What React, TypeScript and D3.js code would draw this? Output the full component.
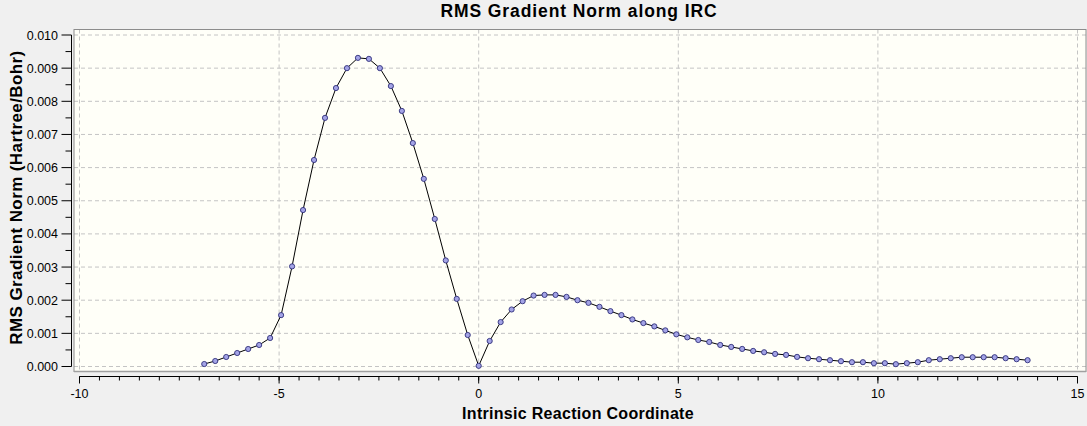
import * as d3 from "d3";

// IRC path: reaction coordinate and RMS gradient (Hartree/Bohr)
const ircX = [
  -6.875, -6.6, -6.325, -6.05, -5.775, -5.5, -5.225, -4.95, -4.675, -4.4, -4.125, -3.85, -3.575,
  -3.3, -3.025, -2.75, -2.475, -2.2, -1.925, -1.65, -1.375, -1.1, -0.825, -0.55, -0.275, 0,
  0.275, 0.55, 0.825, 1.1, 1.375, 1.65, 1.925, 2.2, 2.475, 2.75, 3.025, 3.3, 3.575, 3.85, 4.125,
  4.4, 4.675, 4.95, 5.225, 5.5, 5.775, 6.05, 6.325, 6.6, 6.875, 7.15, 7.425, 7.7, 7.975, 8.25,
  8.525, 8.8, 9.075, 9.35, 9.625, 9.9, 10.175, 10.45, 10.725, 11.0, 11.275, 11.55, 11.825, 12.1,
  12.375, 12.65, 12.925, 13.2, 13.475, 13.75,
];
const rmsGrad = [
  0.000075, 0.000166, 0.000287, 0.000407, 0.000528, 0.000649, 0.00086, 0.00155, 0.00302, 0.00472,
  0.00623, 0.0075, 0.0084, 0.009, 0.00931, 0.00928, 0.009, 0.00846, 0.00771, 0.00674, 0.00566,
  0.00445, 0.0032, 0.00204, 0.00095, 0.00002,
  0.00077, 0.00134, 0.00172, 0.00197, 0.00214, 0.00216, 0.00216, 0.0021, 0.002, 0.00192, 0.0018,
  0.00167, 0.00155, 0.00142, 0.00131, 0.00121, 0.00109, 0.00097, 0.00088, 0.0008, 0.00074,
  0.00065, 0.00059, 0.00053, 0.00047, 0.00043, 0.00038, 0.00035, 0.00029, 0.00025, 0.00022,
  0.00019, 0.00016, 0.00013, 0.00013, 0.0001, 0.0001, 0.00007, 0.0001, 0.00013, 0.00019, 0.00022,
  0.00025, 0.00028, 0.00028, 0.00028, 0.00028, 0.00025, 0.00022, 0.00019,
];
const xTickVals = [-10, -5, 0, 5, 10, 15];
const yTickVals = [0, 0.001, 0.002, 0.003, 0.004, 0.005, 0.006, 0.007, 0.008, 0.009, 0.01];

const W = 1087, H = 426;
const font = "'Liberation Sans', Arial, sans-serif";
const frame = { left: 74, top: 29.5, right: 1086, bottom: 371.5 };

export default function App() {
  const x = d3.scaleLinear().domain([-10, 15]).range([79.5, 1077.5]);
  const y = d3.scaleLinear().domain([0, 0.01]).range([366.5, 35]);
  const pts = ircX.map((v, i) => ({ x: v, y: rmsGrad[i] }));
  const path = d3.line<{ x: number; y: number }>().x((d) => x(d.x)).y((d) => y(d.y))(pts) ?? "";

  const xMinor = d3.range(-10, 15.001, 0.5);
  const yMinor = d3.range(0.0005, 0.01, 0.001);
  const axisY = 376.5, axisX = 71.5;

  return (
    <svg width={W} height={H} style={{ position: "absolute", left: 0, top: 0 }} fontFamily={font}>
      <rect width={W} height={H} fill="#f0f0f0" />
      <rect x={frame.left} y={frame.top} width={frame.right - frame.left} height={frame.bottom - frame.top} fill="#fffff8" />

      {/* dashed grid */}
      {yTickVals.map((t) => (
        <line key={`gy${t}`} x1={frame.left} x2={frame.right} y1={y(t)} y2={y(t)} stroke="#c4c4c4" strokeDasharray="4 3" />
      ))}
      {xTickVals.map((t) => (
        <line key={`gx${t}`} x1={x(t)} x2={x(t)} y1={frame.top} y2={frame.bottom} stroke="#c4c4c4" strokeDasharray="4 3" />
      ))}

      <rect x={frame.left} y={frame.top} width={frame.right - frame.left} height={frame.bottom - frame.top} fill="none" stroke="#8c8c8c" strokeWidth={1} />
      <line x1={frame.left} x2={frame.right} y1={frame.bottom} y2={frame.bottom} stroke="#a0a0a0" strokeWidth={1.5} />

      {/* series */}
      <path d={path} fill="none" stroke="#000" strokeWidth={1} />
      {pts.map((p, i) => (
        <circle key={i} cx={x(p.x)} cy={y(p.y)} r={2.6} fill="#a3a3e6" stroke="#30307a" strokeWidth={0.9} />
      ))}

      {/* y axis */}
      <line x1={axisX} x2={axisX} y1={y(0.01)} y2={y(0)} stroke="#000" />
      {yTickVals.map((t) => (
        <g key={`ty${t}`}>
          <line x1={axisX - 10} x2={axisX} y1={y(t)} y2={y(t)} stroke="#000" />
          <text x={58} y={y(t) + 4.5} textAnchor="end" fontSize={12.5} fill="#000">{t.toFixed(3)}</text>
        </g>
      ))}
      {yMinor.map((t) => (
        <line key={`my${t}`} x1={axisX - 6} x2={axisX} y1={y(t)} y2={y(t)} stroke="#000" />
      ))}

      {/* x axis */}
      <line x1={x(-10)} x2={x(15)} y1={axisY} y2={axisY} stroke="#000" />
      {xMinor.map((t) => (
        <line key={`mx${t}`} x1={x(t)} x2={x(t)} y1={axisY} y2={axisY + 4} stroke="#000" />
      ))}
      {xTickVals.map((t) => (
        <g key={`tx${t}`}>
          <line x1={x(t)} x2={x(t)} y1={axisY} y2={axisY + 7} stroke="#000" />
          <text x={x(t)} y={398} textAnchor="middle" fontSize={12.5} fill="#000">{t}</text>
        </g>
      ))}

      <text x={579} y={17} textAnchor="middle" fontSize={17.5} fontWeight="bold" letterSpacing={0.9} fill="#000">
        RMS Gradient Norm along IRC
      </text>
      <text x={578} y={419} textAnchor="middle" fontSize={16} fontWeight="bold" letterSpacing={0.3} fill="#000">
        Intrinsic Reaction Coordinate
      </text>
      <text transform={`translate(21.5,${(frame.top + frame.bottom) / 2 - 3}) rotate(-90)`} textAnchor="middle" fontSize={17} fontWeight="bold" letterSpacing={0.4} fill="#000">
        RMS Gradient Norm (Hartree/Bohr)
      </text>
    </svg>
  );
}
